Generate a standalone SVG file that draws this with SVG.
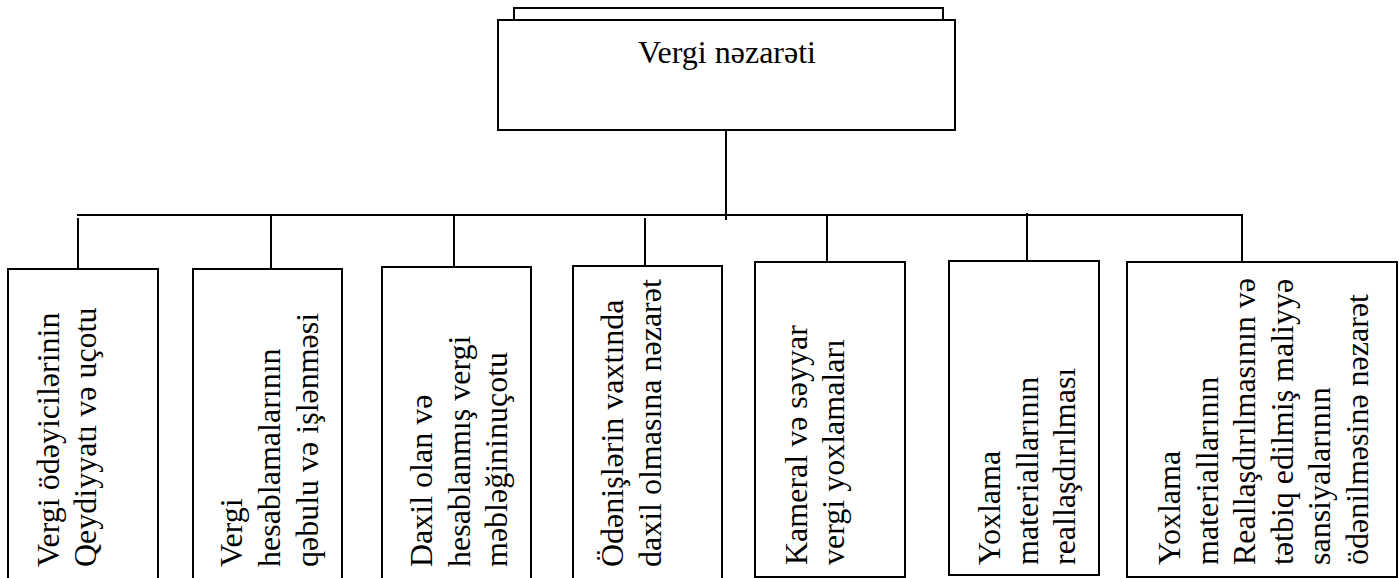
<svg xmlns="http://www.w3.org/2000/svg" width="1399" height="578" viewBox="0 0 1399 578">
<style>
.box{fill:#fff;stroke:#000;stroke-width:2}
.ln{stroke:#000;stroke-width:2;fill:none}
text{font-family:"Liberation Serif","Times New Roman",serif;font-size:32px;fill:#000}
</style>
<rect width="1399" height="578" fill="#fff"/>
<g id="connectors">
<line class="ln" x1="726" y1="130" x2="726" y2="220"/>
<polyline class="ln" points="77,215 1242,215 1242,262"/>
<line class="ln" x1="78" y1="218" x2="78" y2="268"/>
<line class="ln" x1="271" y1="215" x2="271" y2="268"/>
<line class="ln" x1="454" y1="215" x2="454" y2="267"/>
<line class="ln" x1="645" y1="218" x2="645" y2="266"/>
<line class="ln" x1="827" y1="215" x2="827" y2="262"/>
<line class="ln" x1="1027" y1="213" x2="1027" y2="261"/>
</g>
<g id="root">
<polyline class="ln" points="514,20 514,8 943,8 943,20"/>
<rect class="box" x="498" y="20" width="457" height="110"/>
<text x="727" y="63" text-anchor="middle">Vergi nəzarəti</text>
</g>
<g id="n1">
<rect class="box" x="8" y="269" width="150" height="330"/>
<text transform="translate(0,567) rotate(-90)"><tspan x="0" y="58.5">Vergi ödəyicilərinin</tspan><tspan x="0" y="96">Qeydiyyatı və uçotu</tspan></text>
</g>
<g id="n2">
<rect class="box" x="193" y="269" width="149" height="330"/>
<text transform="translate(0,567) rotate(-90)"><tspan x="0" y="242">Vergi</tspan><tspan x="0" y="280">hesablamalarının</tspan><tspan x="0" y="318">qəbulu və işlənməsi</tspan></text>
</g>
<g id="n3">
<rect class="box" x="382" y="267" width="149" height="330"/>
<text transform="translate(0,567) rotate(-90)"><tspan x="0" y="432">Daxil olan və</tspan><tspan x="0" y="470">hesablanmış vergi</tspan><tspan x="0" y="507">məbləğininuçotu</tspan></text>
</g>
<g id="n4">
<rect class="box" x="573" y="266" width="149" height="330"/>
<text transform="translate(0,567) rotate(-90)"><tspan x="0" y="623">Ödənişlərin vaxtında</tspan><tspan x="0" y="661">daxil olmasına nəzarət</tspan></text>
</g>
<g id="n5">
<rect class="box" x="755" y="262" width="150" height="315"/>
<text transform="translate(0,565) rotate(-90)"><tspan x="0" y="807">Kameral və səyyar</tspan><tspan x="0" y="844">vergi yoxlamaları</tspan></text>
</g>
<g id="n6">
<rect class="box" x="949" y="261" width="150" height="314"/>
<text transform="translate(0,565) rotate(-90)"><tspan x="0" y="1000">Yoxlama</tspan><tspan x="0" y="1038">materiallarının</tspan><tspan x="0" y="1075">reallaşdırılması</tspan></text>
</g>
<g id="n7">
<rect class="box" x="1127" y="262" width="270" height="315"/>
<text transform="translate(0,565) rotate(-90)"><tspan x="0" y="1180">Yoxlama</tspan><tspan x="0" y="1218">materiallarının</tspan><tspan x="0" y="1255">Reallaşdırılmasının və</tspan><tspan x="0" y="1293">tətbiq edilmiş maliyyə</tspan><tspan x="0" y="1330">sansiyalarının</tspan><tspan x="0" y="1368">ödənilməsinə nəzarət</tspan></text>
</g>
</svg>
